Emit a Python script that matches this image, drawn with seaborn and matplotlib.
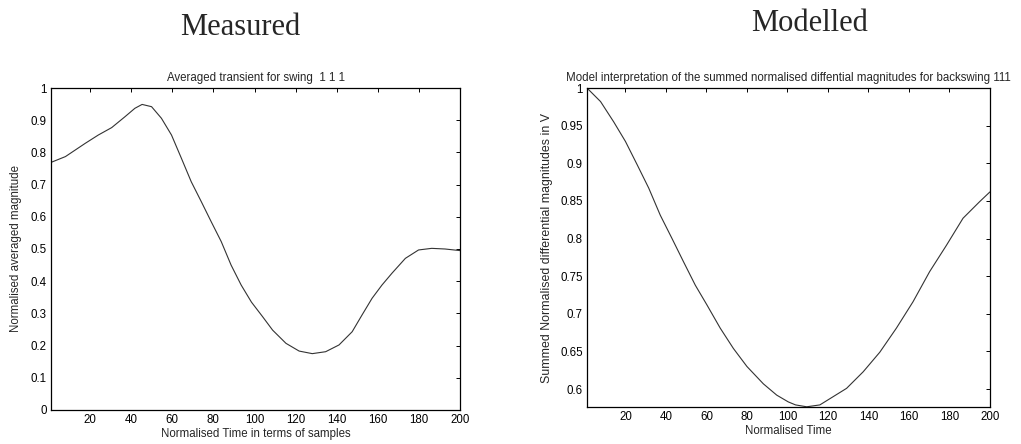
import matplotlib
matplotlib.use("Agg")
import matplotlib.pyplot as plt
import seaborn as sns
import pandas as pd

sns.set_style("white")
plt.rcParams["font.family"] = ["Liberation Sans", "DejaVu Sans"]

# Measured averaged transient (swing 111)
measured_t = [1, 8, 17.6, 24, 30.5, 37, 41.8, 45.3, 49.9, 54.7, 59.6, 64.4, 69.2,
              74.1, 78.9, 83.8, 88.6, 93.5, 98.5, 103.9, 108.8, 115.3, 121.7,
              128.1, 134.6, 141.1, 147.5, 152.3, 157.2, 162, 166.9, 173.4,
              179.8, 186.2, 192.7, 200]
measured_v = [0.769, 0.787, 0.828, 0.854, 0.877, 0.911, 0.937, 0.949, 0.942,
              0.906, 0.854, 0.782, 0.709, 0.647, 0.585, 0.523, 0.450, 0.388,
              0.335, 0.290, 0.248, 0.207, 0.183, 0.175, 0.181, 0.202, 0.243,
              0.295, 0.347, 0.388, 0.425, 0.471, 0.497, 0.502, 0.500, 0.495]

# Modelled summed differential magnitudes (backswing 111)
model_t = [1, 7.7, 14.2, 20, 25.8, 31.5, 37.2, 43, 48.7, 54.5, 60.2, 66.8, 73.3,
           80, 88.1, 94.7, 100.4, 104, 109.5, 116, 122.6, 129.2, 137.4, 145.6,
           153.8, 162, 170.2, 178.5, 186.7, 194.9, 200]
model_v = [1.0, 0.982, 0.955, 0.929, 0.898, 0.867, 0.831, 0.800, 0.769, 0.738,
           0.712, 0.681, 0.654, 0.630, 0.607, 0.592, 0.583, 0.579, 0.5765,
           0.579, 0.590, 0.601, 0.623, 0.649, 0.681, 0.716, 0.756, 0.791,
           0.827, 0.849, 0.862]

x_ticks = list(range(20, 201, 20))
left_yticks = [0, 0.1, 0.2, 0.3, 0.4, 0.5, 0.6, 0.7, 0.8, 0.9, 1]
left_ylabels = ["0", "0.1", "0.2", "0.3", "0.4", "0.5", "0.6", "0.7", "0.8", "0.9", "1"]
right_yticks = [0.6, 0.65, 0.7, 0.75, 0.8, 0.85, 0.9, 0.95, 1]
right_ylabels = ["0.6", "0.65", "0.7", "0.75", "0.8", "0.85", "0.9", "0.95", "1"]

fig = plt.figure(figsize=(10.21, 4.44), dpi=100)
ax1 = fig.add_axes([0.0500, 0.0766, 0.4006, 0.7252])
ax2 = fig.add_axes([0.5749, 0.0833, 0.3947, 0.7185])

df1 = pd.DataFrame({"t": measured_t, "v": measured_v})
df2 = pd.DataFrame({"t": model_t, "v": model_v})
sns.lineplot(data=df1, x="t", y="v", ax=ax1, color="#333333", linewidth=0.8)
sns.lineplot(data=df2, x="t", y="v", ax=ax2, color="#333333", linewidth=0.8)

fs = 8.3
for ax in (ax1, ax2):
    ax.set_xlim(1, 200)
    ax.set_xticks(x_ticks)
    ax.tick_params(direction="in", top=True, right=True, length=3, width=0.7,
                   labelsize=fs, colors="black", pad=3)
    for s in ax.spines.values():
        s.set_color("black")
        s.set_linewidth(0.9)

ax1.set_ylim(0, 1)
ax1.set_yticks(left_yticks)
ax1.set_yticklabels(left_ylabels)
ax2.set_ylim(0.5762, 1)
ax2.set_yticks(right_yticks)
ax2.set_yticklabels(right_ylabels)

ax1.set_title("Averaged transient for swing  1 1 1", fontsize=fs, pad=5)
ax1.set_xlabel("Normalised Time in terms of samples", fontsize=fs, labelpad=1)
ax1.set_ylabel("Normalised averaged magnitude", fontsize=fs, labelpad=6)

ax2.set_title("Model interpretation of the summed normalised diffential magnitudes for backswing 111",
              fontsize=fs, pad=5)
ax2.set_xlabel("Normalised Time", fontsize=fs, labelpad=1)
ax2.set_ylabel("Summed Normalised differential magnitudes in V", fontsize=fs + 0.6, labelpad=5)

fig.text(0.235, 0.938, "Measured", fontsize=22, family="Liberation Serif",
         ha="center", va="center")
fig.text(0.793, 0.948, "Modelled", fontsize=22, family="Liberation Serif",
         ha="center", va="center")

fig.savefig("out.png", dpi=100, facecolor="white")
